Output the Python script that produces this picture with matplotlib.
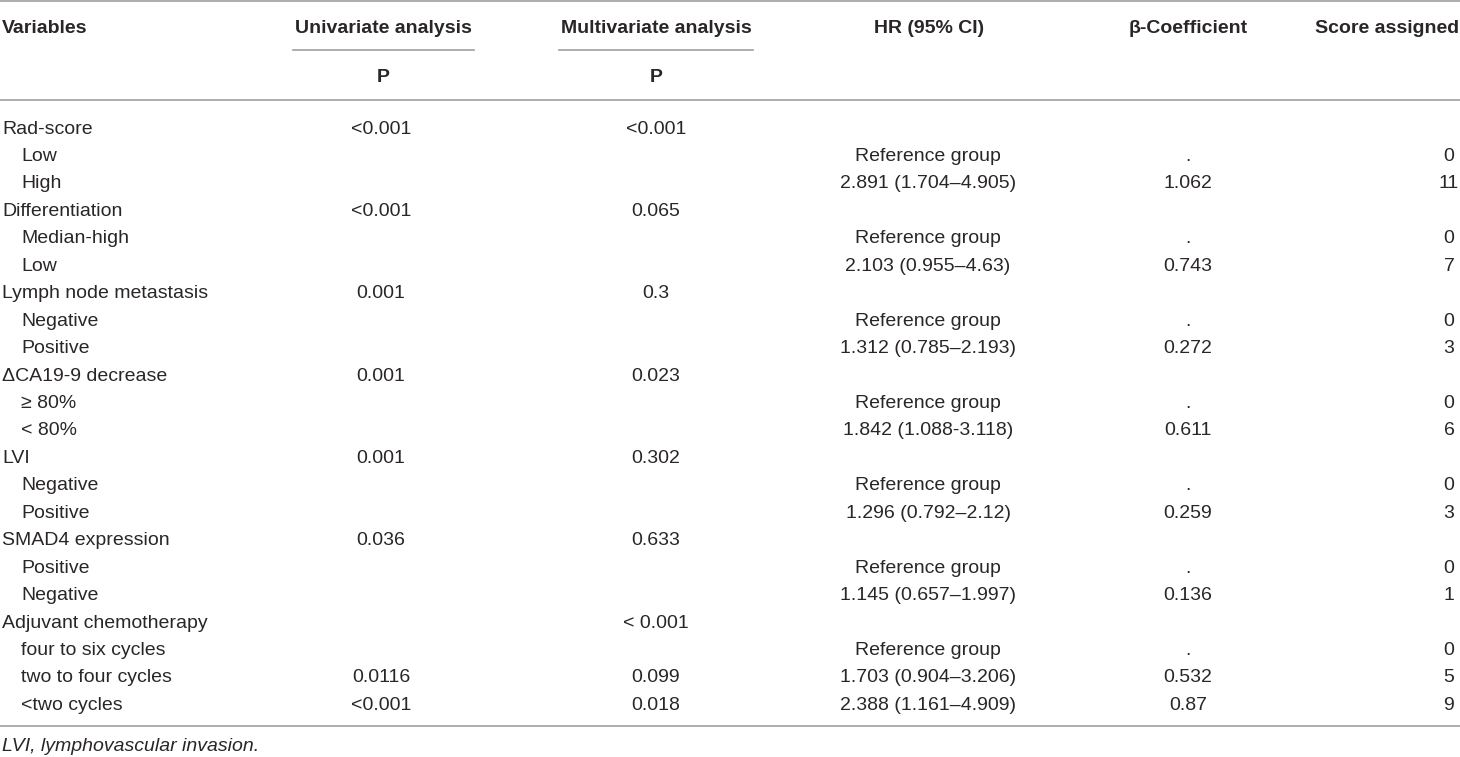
import matplotlib
matplotlib.use("Agg")
import matplotlib.pyplot as plt

# table content
variables = [
    "Rad-score", "Low", "High",
    "Differentiation", "Median-high", "Low",
    "Lymph node metastasis", "Negative", "Positive",
    "\u0394CA19-9 decrease", "\u2265 80%", "< 80%",
    "LVI", "Negative", "Positive",
    "SMAD4 expression", "Positive", "Negative",
    "Adjuvant chemotherapy", "four to six cycles", "two to four cycles", "<two cycles",
]
sub_level = [0, 1, 1, 0, 1, 1, 0, 1, 1, 0, 1, 1, 0, 1, 1, 0, 1, 1, 0, 1, 1, 1]
uni_p = ["<0.001", "", "", "<0.001", "", "", "0.001", "", "", "0.001", "", "",
         "0.001", "", "", "0.036", "", "", "", "", "0.0116", "<0.001"]
multi_p = ["<0.001", "", "", "0.065", "", "", "0.3", "", "", "0.023", "", "",
           "0.302", "", "", "0.633", "", "", "< 0.001", "", "0.099", "0.018"]
hr_ci = ["", "Reference group", "2.891 (1.704\u20134.905)",
         "", "Reference group", "2.103 (0.955\u20134.63)",
         "", "Reference group", "1.312 (0.785\u20132.193)",
         "", "Reference group", "1.842 (1.088-3.118)",
         "", "Reference group", "1.296 (0.792\u20132.12)",
         "", "Reference group", "1.145 (0.657\u20131.997)",
         "", "Reference group", "1.703 (0.904\u20133.206)", "2.388 (1.161\u20134.909)"]
beta = ["", ".", "1.062", "", ".", "0.743", "", ".", "0.272", "", ".", "0.611",
        "", ".", "0.259", "", ".", "0.136", "", ".", "0.532", "0.87"]
score = ["", "0", "11", "", "0", "7", "", "0", "3", "", "0", "6",
         "", "0", "3", "", "0", "1", "", "0", "5", "9"]
footnote = "LVI, lymphovascular invasion."

plt.rcParams["font.family"] = ["Liberation Sans", "DejaVu Sans"]

text_col = "#2a2627"
line_col = "#a0a0a0"
fs = 14

fig = plt.figure(figsize=(14.6, 7.57), dpi=100)
ax = fig.add_axes([0, 0, 1, 1])
ax.set_xlim(0, 1460)
ax.set_ylim(757, 0)
ax.axis("off")

# rules
ax.plot([0, 1460], [1, 1], color=line_col, lw=1.2)
ax.plot([293, 474], [50, 50], color=line_col, lw=1.2)
ax.plot([559, 753], [50, 50], color=line_col, lw=1.2)
ax.plot([0, 1460], [100, 100], color=line_col, lw=1.2)
ax.plot([0, 1460], [726, 726], color=line_col, lw=1.2)

# header
hdr = dict(fontsize=fs, fontweight="bold", color=text_col, va="baseline")
ax.text(2, 33, "Variables", ha="left", **hdr)
ax.text(383, 33, "Univariate analysis", ha="center", **hdr)
ax.text(656, 33, "Multivariate analysis", ha="center", **hdr)
ax.text(929, 33, "HR (95% CI)", ha="center", **hdr)
ax.text(1188, 33, "\u03b2-Coefficient", ha="center", **hdr)
ax.text(1459, 33, "Score assigned", ha="right", **hdr)
ax.text(383, 82, "P", ha="center", **hdr)
ax.text(656, 82, "P", ha="center", **hdr)

# body
body = dict(fontsize=fs, color=text_col, va="baseline")
y0, dy = 133.5, 27.45
for i in range(len(variables)):
    y = y0 + i * dy
    ax.text(2 + 19 * sub_level[i], y, variables[i], ha="left", **body)
    ax.text(381, y, uni_p[i], ha="center", **body)
    ax.text(656, y, multi_p[i], ha="center", **body)
    ax.text(928, y, hr_ci[i], ha="center", **body)
    ax.text(1188, y, beta[i], ha="center", **body)
    ax.text(1449, y, score[i], ha="center", **body)

ax.text(2, 751, footnote, ha="left", fontstyle="italic", **body)

fig.savefig("out.png", dpi=100)
